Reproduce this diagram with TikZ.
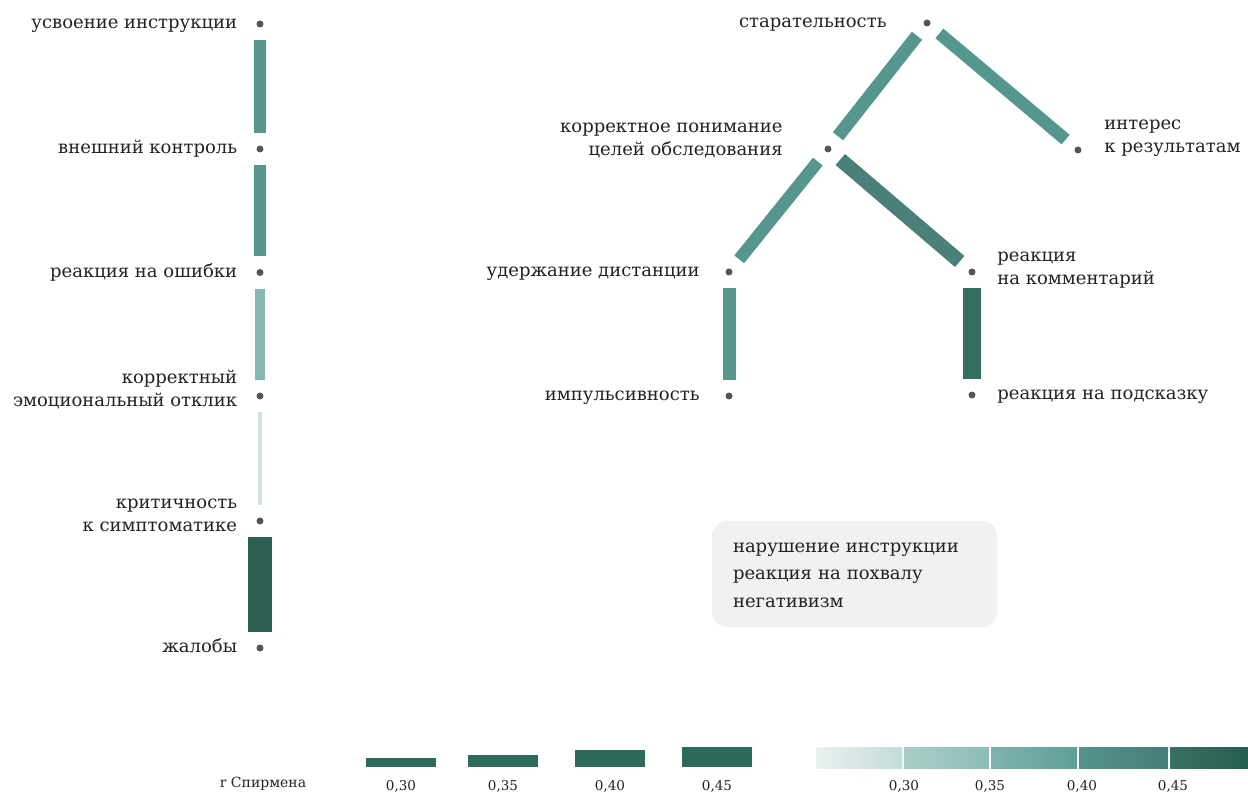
\documentclass[tikz,border=0pt]{standalone}
\usepackage{fontspec}
\setmainfont{DejaVu Serif}
\usetikzlibrary{positioning}
\definecolor{ink}{HTML}{222222}
\definecolor{dotgray}{HTML}{555555}
\definecolor{tealmid}{HTML}{55968F}
\definecolor{teallight}{HTML}{86B7B1}
\definecolor{tealpale}{HTML}{CDE3E0}
\definecolor{tealdark}{HTML}{2C5F52}
\definecolor{tealdeep}{HTML}{4A8079}
\definecolor{tealstrong}{HTML}{336E60}
\definecolor{legbar}{HTML}{2E6A5C}
\definecolor{notefill}{HTML}{F1F1F1}
\definecolor{g1a}{HTML}{E8F1F0}\definecolor{g1b}{HTML}{C3DCD8}
\definecolor{g2a}{HTML}{ABCDC8}\definecolor{g2b}{HTML}{8CBDB6}
\definecolor{g3a}{HTML}{7DB3AC}\definecolor{g3b}{HTML}{5F9F98}
\definecolor{g4a}{HTML}{54928B}\definecolor{g4b}{HTML}{467E77}
\definecolor{g5a}{HTML}{3A7064}\definecolor{g5b}{HTML}{245E4E}

\begin{document}
\begin{tikzpicture}[x=1pt, y=-1pt, node distance=19pt,
  vdot/.style={circle, fill=dotgray, inner sep=0pt, minimum size=7pt},
  lbl/.style={font=\fontsize{18}{23}\selectfont, text=ink, inner sep=0pt,
    execute at begin node=\strut, execute at end node=\strut},
  rlink/.style={line width=#1, shorten <=12.5pt, shorten >=12.5pt},
  notebox/.style={fill=notefill, rounded corners=15pt, align=left, text width=243pt,
    inner xsep=21pt, inner ysep=0pt, minimum height=106pt, text=ink,
    font=\fontsize{18}{27.5}\selectfont, execute at begin node=\strut, execute at end node=\strut},
  leg/.style={font=\fontsize{13.5}{16}\selectfont, text=ink, inner sep=0pt}]
  \useasboundingbox (0,0) rectangle (1248,794);

  % left chain
  \node[vdot] (usv) at (260,24) {};
  \node[vdot] (vk) at (260,149) {};
  \node[vdot] (ro) at (260,272.5) {};
  \node[vdot] (ke) at (260,396) {};
  \node[vdot] (ks) at (260,521) {};
  \node[vdot] (zh) at (260,648) {};
  \node[lbl, left=of usv] (usvl) {усвоение инструкции};
  \node[lbl, left=of vk] (vkl) {внешний контроль};
  \node[lbl, left=of ro] (rol) {реакция на ошибки};
  \node[lbl, left=of ke, align=right, yshift=4pt] (kel) {корректный\\эмоциональный отклик};
  \node[lbl, left=of ks, align=right, yshift=2pt] (ksl) {критичность\\к симптоматике};
  \node[lbl, left=of zh] (zhl) {жалобы};
  \draw[rlink=12, tealmid] (usv) -- (vk);
  \draw[rlink=12, tealmid] (vk) -- (ro);
  \draw[rlink=10, teallight] (ro) -- (ke);
  \draw[rlink=4, tealpale] (ke) -- (ks);
  \draw[rlink=24, tealdark] (ks) -- (zh);

  % tree
  \node[vdot] (st) at (927,23) {};
  \node[vdot] (kp) at (828,149) {};
  \node[vdot] (ir) at (1078,150) {};
  \node[vdot] (ud) at (729,272) {};
  \node[vdot] (rk) at (972,272) {};
  \node[vdot] (im) at (729,396) {};
  \node[vdot] (rp) at (972,395) {};
  \node[lbl, left=36.5pt of st] (stl) {старательность};
  \node[lbl, left=41.5pt of kp, align=right, yshift=6pt] (kpl) {корректное понимание\\целей обследования};
  \node[lbl, right=22.5pt of ir, align=left, yshift=10pt] (irl) {интерес\\к результатам};
  \node[lbl, left=25.5pt of ud] (udl) {удержание дистанции};
  \node[lbl, right=21.5pt of rk, align=left] (rkl) {реакция\\на комментарий};
  \node[lbl, left=25.5pt of im] (iml) {импульсивность};
  \node[lbl, right=21.5pt of rp] (rpl) {реакция на подсказку};
  \draw[rlink=13, tealmid] (st) -- (kp);
  \draw[rlink=12.5, tealmid] (st) -- (ir);
  \draw[rlink=12.5, tealmid] (kp) -- (ud);
  \draw[rlink=14.5, tealdeep] (kp) -- (rk);
  \draw[rlink=13, tealmid] (ud) -- (im);
  \draw[rlink=18, tealstrong] (rk) -- (rp);

  \node[notebox] (note) at (854.5,574) {нарушение инструкции\\реакция на похвалу\\негативизм};

  % legend
  \node[leg, font=\fontsize{14}{16}\selectfont] (spear) at (263,784) {r Спирмена};
  \foreach \xa/\h/\val in {366/9/{0,30}, 468/12/{0,35}, 575/17/{0,40}, 682/20/{0,45}}{
    \fill[legbar] (\xa,767) rectangle ++(70,-\h);
    \node[leg] (w\xa) at (\xa+35,786) {\val};
  }
  \foreach \xa/\xb/\ca/\cb in {816/902/g1a/g1b, 904/989/g2a/g2b, 991/1077/g3a/g3b, 1079/1168/g4a/g4b, 1170/1248/g5a/g5b}
    \shade[left color=\ca, right color=\cb] (\xa,747) rectangle (\xb,768);
  \foreach \xa/\val in {904/{0,30}, 990/{0,35}, 1082/{0,40}, 1173/{0,45}}
    \node[leg] (c\xa) at (\xa,786) {\val};
\end{tikzpicture}
\end{document}
